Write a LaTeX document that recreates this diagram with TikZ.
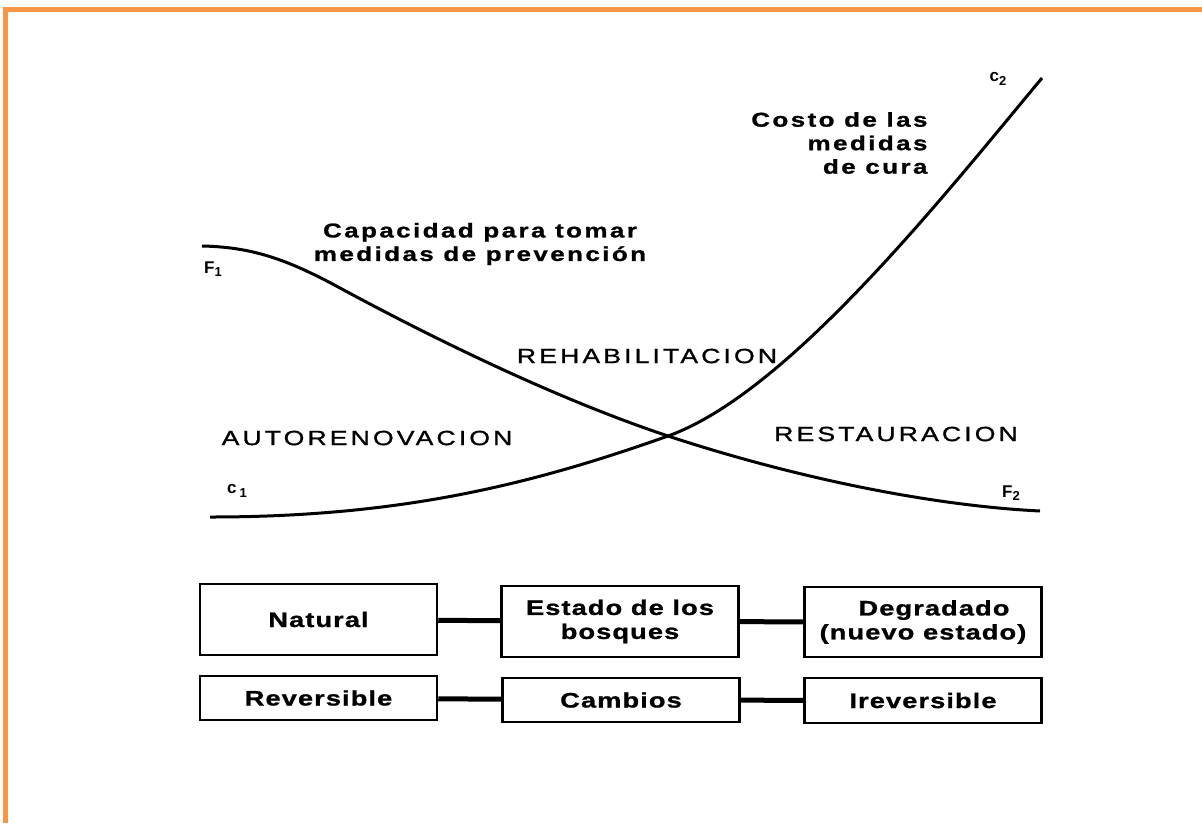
\documentclass[tikz,border=0pt]{standalone}
\usepackage{fontspec}
\setmainfont{Liberation Sans}
\newfontfamily\capfont{Liberation Sans}[FakeStretch=1.3, LetterSpace=12, FakeBold=1]
\newfontfamily\regionfont{Liberation Sans}[FakeStretch=1.3, LetterSpace=15, FakeBold=1.2]
\newfontfamily\boxfont{Liberation Sans}[FakeStretch=1.3, LetterSpace=5, FakeBold=1]
\newcommand{\lowsub}[1]{\raisebox{-0.4ex}{\fontsize{13}{13}\selectfont #1}}
\definecolor{frameorange}{RGB}{247,150,70}

\begin{document}
\begin{tikzpicture}[x=1pt, y=-1pt,
    curve/.style={line width=3pt},
    box/.style={draw, line width=2.5pt, minimum width=237pt, inner sep=2pt,
        align=center, font=\boxfont\bfseries\fontsize{21}{24}\selectfont},
    link/.style={line width=5pt},
    region/.style={font=\regionfont\fontsize{20.5}{23}\selectfont},
    caption/.style={font=\capfont\bfseries\fontsize{20}{23.5}\selectfont},
    tag/.style={font=\bfseries\fontsize{17}{18}\selectfont, inner sep=0pt}]

    \useasboundingbox (0, 0) rectangle (1202, 823);

    % Frame
    \draw[frameorange, line width=5pt] (5.5, 823) -- (5.5, 9.5) -- (1202, 9.5);

    % Crossing point of the two curves
    \coordinate (x) at (668, 436);

    % Curve F (prevention)
    \draw[curve] (202, 246) .. controls (250, 247) and (285, 258) .. (340, 288)
        .. controls (440, 342) and (560, 400) .. (x)
        .. controls (780, 473) and (920, 505) .. (1040, 511);

    % Curve C (cost)
    \draw[curve] (210, 517) .. controls (400, 517) and (530, 485) .. (x)
        .. controls (788, 393) and (942, 198) .. (1042, 78);

    % Curve labels
    \node[tag] (f1) at (213, 269) {F\lowsub{1}};
    \node[tag] (f2) at (1011, 493) {F\lowsub{2}};
    \node[tag] (c1) at (237, 491) {c\,\lowsub{1}};
    \node[tag] (c2) at (998, 79) {c\lowsub{2}};

    \node[caption, align=center] (prev) at (480, 244)
        {Capacidad para tomar\\medidas de prevención};
    \node[caption, align=right, anchor=east] (cost) at (931, 143)
        {Costo de las\\medidas\\de cura};

    % Regions
    \node[region] (rehab) at (647, 356) {REHABILITACION};
    \node[region] (auto) at (367, 438) {AUTORENOVACION};
    \node[region] (rest) at (896, 434) {RESTAURACION};

    % State boxes
    \node[box, minimum height=71pt] (nat) at (318.5, 619.5) {Natural};
    \node[box, minimum height=71pt] (est) at (620, 621.5) {Estado de los\\bosques};
    \node[box, minimum height=70pt] (deg) at (923, 622)
        {\hspace*{22pt}Degradado\\(nuevo estado)};

    % Change boxes
    \node[box, minimum height=44pt] (rev) at (318.5, 698) {Reversible};
    \node[box, minimum height=44pt] (cam) at (621, 700) {Cambios};
    \node[box, minimum height=45pt] (irr) at (923, 700.5) {Ireversible};

    % Links
    \draw[link] (nat) -- (est);
    \draw[link] (est) -- (deg);
    \draw[link] (rev) -- (cam);
    \draw[link] (cam) -- (irr);

\end{tikzpicture}
\end{document}
